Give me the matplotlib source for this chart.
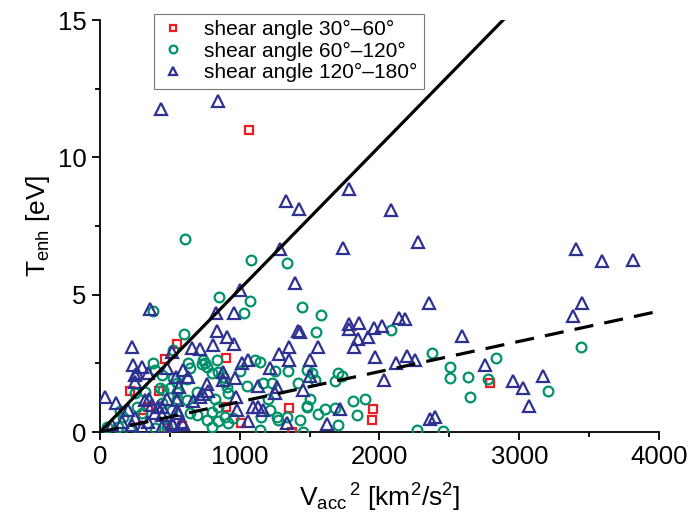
import matplotlib
matplotlib.use("Agg")
import matplotlib.pyplot as plt

plt.rcParams['font.family'] = ['Liberation Sans', 'DejaVu Sans']
plt.rcParams['mathtext.fontset'] = 'custom'
plt.rcParams['mathtext.rm'] = 'Liberation Sans'
plt.rcParams['mathtext.it'] = 'Liberation Sans:italic'

# shear angle 30-60 (squares)
sq_x = [1069, 553, 468, 902, 215, 425, 902, 1350, 1007, 1374, 1956, 1944, 2794,
        584, 477, 340, 310]
sq_y = [10.99, 3.20, 2.65, 2.71, 1.50, 1.50, 0.92, 0.89, 0.32, 0.01, 0.83, 0.44, 1.77,
        0.22, 0.13, 0.90, 0.50]

# shear angle 60-120 (circles)
ci_x = [608, 1078, 1336, 854, 1073, 1030, 1443, 1579, 382, 601, 1546, 520, 739, 750,
        835, 1109, 1145, 644, 799, 1002, 1252, 1348, 394, 520, 625, 429, 883, 906,
        1050, 1164, 1229, 1419, 1503, 1479, 1705, 1610, 1682, 1705, 1216, 1264, 1336,
        823, 842, 768, 644, 692, 553, 262, 143, 1145, 1455, 1431,
        2080, 2373, 2834, 2505, 2505, 2636, 2779, 2648, 3207, 3440, 1729, 1682, 1515,
        1539, 1484, 1562, 1808, 1896, 1841, 2266, 2452,
        1479, 1204, 1276, 632, 728, 763, 894, 847, 918, 847, 799, 894, 918, 954, 799,
        620, 692, 1152, 441, 382, 453, 501, 549, 549, 250, 322, 167, 131, 215, 394,
        477, 298, 513, 441, 48]
ci_y = [7.03, 6.25, 6.16, 4.90, 4.78, 4.32, 4.54, 4.27, 4.42, 3.57, 3.65, 2.98, 2.62, 2.50,
        2.62, 2.62, 2.56, 2.32, 2.16, 2.23, 2.23, 2.23, 2.26, 1.95, 1.92, 1.59, 1.99, 1.65,
        1.67, 1.79, 1.77, 1.77, 1.19, 0.95, 2.14, 0.83, 0.86, 0.25, 0.80, 0.56, 0.56,
        1.19, 0.41, 0.44, 0.70, 1.47, 1.22, 0.92, 0.78, 0.07, 0.01, 0.44,
        3.71, 2.86, 2.69, 2.38, 1.95, 1.99, 1.94, 1.26, 1.50, 3.11, 2.05, 1.86, 2.16,
        1.89, 0.90, 0.66, 1.14, 1.19, 0.62, 0.07, 0.02,
        2.26, 1.22, 0.44, 2.52, 2.48, 2.38, 1.83, 2.20, 1.41, 0.92, 0.74, 0.56, 0.32, 0.50, 0.19,
        1.16, 0.62, 0.56, 2.07, 2.50, 1.53, 1.59, 1.77, 1.47, 1.41, 1.47, 0.56, 0.19, 0.07, 0.13,
        0.19, 0.68, 0.80, 1.04, 0.19]

# shear angle 120-180 (triangles)
tr_x = [434, 842, 1331, 1424, 1784, 2080, 1288, 1741, 2273, 3406, 3590, 3816,
        1002, 1395, 358, 830, 959, 2357, 3447, 3382,
        835, 906, 959, 811, 656, 716, 515, 227, 1419,
        1562, 1355, 1283, 1350, 1503, 1014, 1062,
        1784, 1856, 1784, 1960, 2020, 2141, 2182, 1849, 1920, 1818, 1431, 1966, 2116,
        2194, 2254, 2588, 2757,
        238, 298, 250, 477, 596, 544, 568, 883, 878, 966, 1216, 1503, 1264, 1133, 763,
        735, 716, 36, 114, 973, 1097, 1169, 1062, 1341, 1627, 353, 477, 549, 441, 596, 525,
        2035, 1450, 2958, 3024, 3172, 3068, 1717, 2362, 2398,
        1252, 632, 775, 668, 1128, 978, 549, 584,
        262, 341, 250, 322, 370, 417, 441, 203, 250, 346, 155, 84, 298, 513, 441, 227,
        394, 560]
tr_y = [11.75, 12.06, 8.42, 8.11, 8.84, 8.08, 6.65, 6.69, 6.91, 6.67, 6.22, 6.26,
        5.17, 5.41, 4.47, 4.34, 4.32, 4.68, 4.71, 4.22,
        3.69, 3.47, 3.19, 3.17, 3.05, 3.01, 2.92, 3.08, 3.69,
        3.08, 3.11, 2.84, 2.62, 2.62, 2.52, 2.62,
        3.93, 3.96, 3.76, 3.77, 3.87, 4.16, 4.11, 3.37, 3.47, 3.11, 3.65, 2.74, 2.52,
        2.77, 2.62, 3.49, 2.44,
        2.44, 2.38, 2.07, 2.32, 2.26, 2.01, 1.63, 2.20, 1.89, 1.95, 2.32, 2.04, 1.65, 1.67, 1.75,
        1.38, 1.26, 1.26, 1.07, 1.29, 0.92, 0.80, 0.41, 0.32, 0.30, 1.22, 1.22, 1.16, 0.92, 0.29, 0.25,
        1.89, 1.53, 1.87, 1.59, 2.04, 0.95, 0.83, 0.48, 0.56,
        1.41, 2.01, 1.50, 1.14, 0.92, 0.80, 0.80, 0.38,
        2.14, 2.14, 1.83, 1.16, 0.98, 0.92, 0.62, 0.80, 0.50, 0.38, 0.38, 0.25, 0.19, 0.32, 0.19, 0.25,
        0.68, 0.68]

# fitted slopes
solid_slope = 0.0052
dashed_slope = 0.0011
line_x = [0, 4000]

red = '#ec1c24'
green = '#00926a'
blue = '#2e3192'

fig = plt.figure(figsize=(6.91, 5.28), dpi=100)
ax = fig.add_axes([0.1447, 0.1818, 0.809, 0.7803])

ax.plot(sq_x, sq_y, 's', ls='none', mfc='none', mec=red, ms=6, mew=1.6,
        label='shear angle 30°–60°', zorder=3)
ax.plot(ci_x, ci_y, 'o', ls='none', mfc='none', mec=green, ms=7, mew=1.6,
        label='shear angle 60°–120°', zorder=3)
ax.plot(tr_x, tr_y, '^', ls='none', mfc='none', mec=blue, ms=8, mew=1.6,
        label='shear angle 120°–180°', zorder=3)

ax.plot(line_x, [solid_slope * v for v in line_x], color='black', lw=2.3, zorder=4)
ax.plot(line_x, [dashed_slope * v for v in line_x], color='black', lw=2.3,
        dashes=(6, 3.5), zorder=4)

ax.set_xlim(0, 4000)
ax.set_ylim(0, 15)
ax.set_xticks([0, 1000, 2000, 3000, 4000])
ax.set_xticks([500, 1500, 2500, 3500], minor=True)
ax.set_yticks([0, 5, 10, 15])
ax.set_yticks([2.5, 7.5, 12.5], minor=True)

for side in ['top', 'right']:
    ax.spines[side].set_visible(False)
for side in ['left', 'bottom']:
    ax.spines[side].set_linewidth(1.3)
ax.tick_params(which='major', direction='out', length=6, width=1.3, labelsize=18.5)
ax.tick_params(which='minor', direction='out', length=3.5, width=1.3)

ax.set_xlabel(r'$\mathrm{V_{acc}}^{\,2}$ [km$^2$/s$^2$]', fontsize=19, labelpad=9)
ax.set_ylabel(r'$\mathrm{T_{enh}}$ [eV]', fontsize=19, labelpad=4)

leg = ax.legend(loc='upper left', bbox_to_anchor=(0.097, 1.015), fontsize=15,
                frameon=True, fancybox=False, edgecolor='#555555',
                handlelength=1.2, handletextpad=0.9, borderpad=0.3,
                labelspacing=0.12, borderaxespad=0, markerscale=0.8)
leg.get_frame().set_linewidth(0.8)

fig.savefig('out.png', dpi=100)
